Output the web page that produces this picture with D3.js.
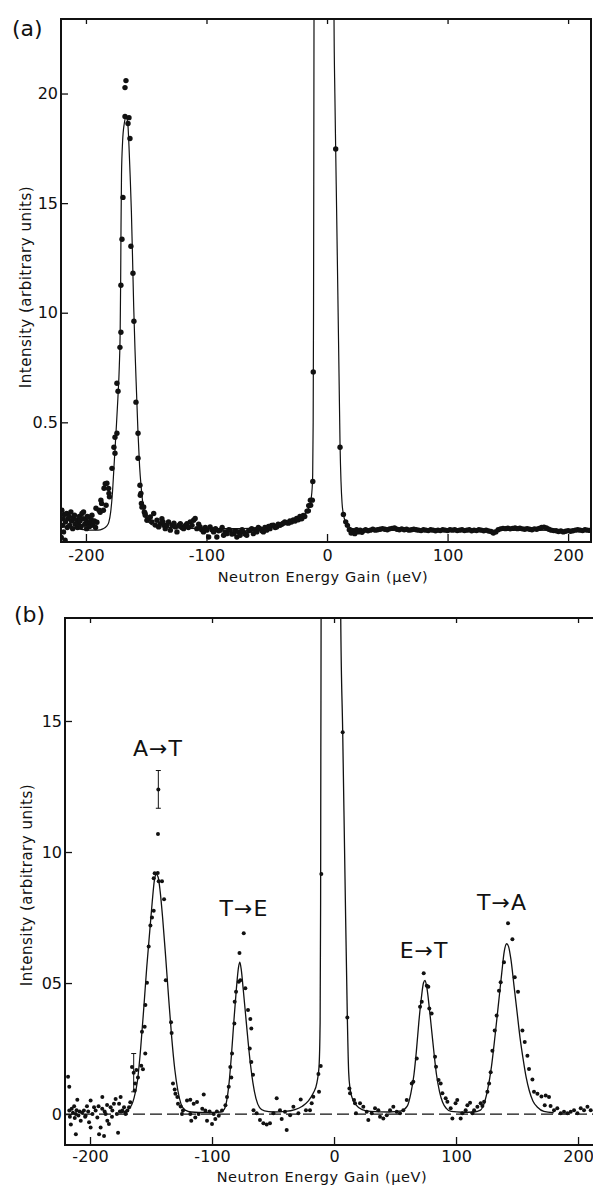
<!DOCTYPE html>
<html>
<head>
<meta charset="utf-8">
<script src="https://cdn.jsdelivr.net/npm/d3@7"></script>
<style>
body { margin: 0; background: #fff; }
svg text { font-family: "DejaVu Sans", sans-serif; fill: #111; }
</style>
</head>
<body>
<svg id="fig" width="593" height="1186"></svg>
<script>
'use strict';

// ---- shared ticks ----
var xTicks = [-200, -100, 0, 100, 200];
var xTitle = 'Neutron Energy Gain (\u00b5eV)';
var yTitle = 'Intensity (arbitrary units)';

// ---- panel (a) ----
var aYTicks = [5, 10, 15, 20];
var aYTickLabels = ['0.5', '10', '15', '20'];

// measured points [energy, intensity]
var aPts = [
	[-220.5,-0.25],[-220,0.99],[-219.5,0.3],[-219,0.6],[-218.6,0.0],[-218,0.8],[-217.3,-0.38],[-217,0.45],
	[-216,0.84],[-215.5,0.2],[-215,0.6],[-214,0.7],[-213.5,0.3],[-212.5,0.91],[-212,0.5],[-211,0.15],
	[-210.5,0.65],[-209.5,0.76],[-209,0.35],[-208,0.55],[-207,0.2],[-206.4,0.38],[-205.5,0.7],[-205,0.5],
	[-204,0.25],[-203.3,0.84],[-202.5,0.6],[-202,0.91],[-201,0.35],[-200,0.55],[-199.5,0.15],[-199,0.7],
	[-198,0.4],[-197.8,0.68],[-197,0.25],[-196.4,0.46],[-195.5,0.55],[-195,0.76],[-194,0.3],[-193,0.5],
	[-192,0.2],[-191.7,1.08],[-190.9,0.44],[-189.2,0.99],[-188.2,0.9],[-187.6,1.45],[-187,1.3],[-185.5,0.99],
	[-185,1.99],[-184,2.2],[-183.3,1.22],[-182.6,2.22],[-181.2,1.98],[-180.9,1.76],[-180.5,1.6],[-178.4,2.9],
	[-176.8,3.86],[-175.9,4.32],[-175.9,3.59],[-174.3,4.5],[-174.3,6.78],[-173.4,6.42],[-171.8,8.42],[-171,9.11],
	[-171,11.25],[-170.1,13.35],[-169.3,15.26],[-167.6,18.95],[-167.6,20.27],[-166.8,20.59],[-165.1,18.63],[-164.3,18.9],
	[-163.5,17.95],[-162.7,13.03],[-161,11.8],[-160.2,9.61],[-158.5,5.92],[-156.8,4.5],[-156.8,3.36],[-155.2,2.13],
	[-154.9,1.67],[-154.4,1.76],[-154,1.3],[-153.5,1.13],[-152.1,1.14],[-151.6,0.91],[-151,0.85],[-150.8,0.76],
	[-149.4,0.53],[-148,0.6],[-146.6,0.68],[-145.3,0.46],[-143.8,0.84],[-142.5,0.31],[-141.1,0.53],[-139.7,0.23],
	[-138.3,0.38],[-137,0.6],[-136.1,0.46],[-135,0.3],[-134.2,0.15],[-132.8,0.31],[-131.5,0.45],[-130,0.08],
	[-128.6,0.31],[-127,0.4],[-125.9,0.23],[-124.5,0],[-123,0.3],[-121.7,0.38],[-120.5,0.2],[-119,0.15],
	[-117.5,0.3],[-116.2,0.38],[-115,0.2],[-113.5,0.46],[-112,0.3],[-110.7,0.53],[-109.4,0.61],[-108,0.15],
	[-106.5,0.35],[-105.3,0.23],[-104,0.1],[-102.5,0],[-101,0.2],[-99.8,0.08],[-98.2,-0.23],[-97,0.23],
	[-95.5,0.1],[-94.1,0],[-92.5,0.15],[-91.4,-0.23],[-90,0.05],[-88.6,0.08],[-87,0.2],[-85.8,-0.15],
	[-84.5,0],[-83.1,-0.08],[-81.5,0.1],[-80.3,0.08],[-79,-0.1],[-77.6,-0.08],[-76,0.05],[-74.8,-0.23],
	[-73.5,0],[-72.1,-0.15],[-70.5,0.1],[-69.3,0],[-68,-0.1],[-66.6,-0.15],[-65,0.05],[-63.8,0.08],
	[-62.5,0.15],[-61.1,-0.08],[-59.5,0.1],[-58.3,0],[-57,0.2],[-55.6,0.15],[-54,0.05],[-52.8,0],
	[-51.5,0.2],[-50.1,0.08],[-48.5,0.25],[-47.3,0.15],[-46,0.3],[-44.5,0.31],[-43,0.2],[-41.8,0.23],
	[-40.5,0.35],[-39,0.3],[-37.5,0.35],[-36.3,0.4],[-35,0.45],[-33.5,0.42],[-32,0.4],[-30.8,0.5],
	[-29.5,0.45],[-28,0.55],[-26.5,0.5],[-25.2,0.62],[-23.8,0.55],[-22.5,0.7],[-21,0.6],[-19.7,0.75],
	[-18.5,0.7],[-16.6,0.95],[-15.5,0.96],[-15.2,1.2],[-13.8,1.45],[-13.6,1.22],[-12.2,1.45],[-11.8,2.3],
	[-11.4,7.3],[7.2,17.47],[10.8,3.86],[13.6,0.8],[15.5,0.46],[16.9,0.3],
	[18.5,0.1],[20,-0.05],[21.5,0.05],[23,-0.08],[24.5,0.1],[26,0.0],[27.5,0.08],[29,-0.02],
	[30.5,0.06],[32,0.1],[34,0.05],[36,0.08],[38,0.12],[40,0.08],[42,0.1],[44,0.12],
	[46,0.15],[48,0.12],[50,0.1],[52,0.14],[54,0.16],[56,0.18],[58,0.12],[60,0.1],
	[62,0.14],[64,0.1],[66,0.12],[68,0.08],[70,0.1],[72,0.12],[74,0.1],[76,0.08],
	[78,0.06],[80,0.1],[82,0.08],[84,0.06],[86,0.1],[88,0.08],[90,0.05],[92,0.08],
	[94,0.06],[96,0.1],[98,0.08],[100,0.06],[102,0.1],[104,0.08],[106,0.1],[108,0.06],
	[110,0.08],[112,0.1],[114,0.06],[116,0.08],[118,0.1],[120,0.05],[122,0.08],[124,0.06],
	[126,0.1],[128,0.08],[130,0.05],[132,0.08],[134,0.04],[136,0.02],[138,-0.05],[140,0.0],
	[142,0.1],[144,0.14],[146,0.16],[148,0.15],[150,0.17],[152,0.14],[154,0.16],[156,0.18],
	[158,0.15],[160,0.17],[162,0.14],[164,0.12],[166,0.15],[168,0.12],[170,0.1],[172,0.14],
	[174,0.12],[176,0.16],[178,0.2],[180,0.22],[182,0.18],[184,0.12],[186,0.08],[188,0.06],
	[190,0.05],[192,0.02],[194,0.04],[196,0.0],[198,0.03],[200,0.06],[202,0.03],[204,0.05],
	[206,0.08],[208,0.1],[210,0.08],[212,0.06],[214,0.1],[216,0.08],[218,0.07]
];

// fitted curve
var aFit = [
	[-221,0.25],[-212,0.18],[-204,0.12],[-196,0.08],[-190,0.08],[-186,0.14],[-183,0.25],[-181,0.45],
	[-179.5,0.9],[-178,1.8],[-176.5,3.2],[-175,4.6],[-173.5,6.1],[-172.3,7.6],[-171.6,9.2],[-171.2,11.5],
	[-170.9,14],[-170.5,16.3],[-169.6,17.8],[-168.3,18.6],[-166.8,18.9],[-165.4,18.7],[-164.3,17.6],[-163.3,16.2],
	[-162.3,14.6],[-161.3,12.4],[-160.4,10.3],[-159.3,8.3],[-158,6.3],[-156.8,4.5],[-155.5,3.0],[-154.3,2.1],
	[-153,1.4],[-151,0.8],[-148,0.45],[-143,0.28],[-130,0.2],[-100,0.15],[-70,0.15],[-50,0.22],
	[-40,0.32],[-30,0.45],[-22,0.65],[-17,0.9],[-14,1.3],[-12.6,1.8],[-11.9,2.6],[-11.5,5],
	[-11.2,10],[-11,16],[-10.8,23.4],[-10.5,40],[5.4,40],[5.8,23.4],[6.5,20],[7.2,17.4],
	[8,14.5],[9,10.8],[10,7],[10.8,4.0],[11.6,2.3],[12.5,1.3],[13.6,0.8],[15,0.5],
	[17,0.3],[20,0.18],[25,0.1],[40,0.08],[100,0.08],[219,0.07]
];

// ---- panel (b) ----
var bYTicks = [0, 5, 10, 15];
var bYTickLabels = ['0', '05', '10', '15'];

var bPts = [
	[-218,1.42],[-217,1.04],[-217,0.14],[-216.5,-0.1],[-215.7,-0.4],[-215,0.2],[-214,0.05],[-213,0.3],
	[-212.5,-0.15],[-211.6,0],[-211.6,-0.77],[-211,0.15],[-210.4,0.55],[-209.5,-0.05],[-208.5,0.1],[-207.6,-0.25],
	[-206.5,0.05],[-205,0.14],[-204,-0.1],[-203.6,-0.06],[-202.5,0.3],[-201.5,0.1],[-200.8,-0.31],[-199.5,-0.51],
	[-199.5,0.52],[-198,0.0],[-196.7,0.26],[-195.4,0.14],[-194,-0.13],[-193,0.3],[-192.6,-0.77],[-191.3,-0.51],
	[-190,0.2],[-189.9,0.65],[-188.5,-0.84],[-188,0.1],[-187.2,0],[-186,0.35],[-185.8,-0.25],[-184.5,-0.38],
	[-183.1,0.26],[-182,-0.1],[-181.7,0.14],[-180.4,0.39],[-179,0.58],[-178,0.0],[-177,-0.71],[-176.2,0.39],
	[-175.5,0.1],[-174.9,0.65],[-173.5,0.14],[-172.1,0.26],[-171,0.05],[-170.8,0],[-169.4,0.14],[-168,0.26],
	[-167,0.45],[-165.6,1.8],[-163.4,0.9],[-163,1.17],[-162,1.68],[-160.7,1.4],[-158,1.84],[-156.6,1.71],
	[-157.4,3.14],[-155.2,3.33],[-154.7,2.31],[-154.6,4.16],[-153.3,5.01],[-151.9,6.39],[-150.5,7.2],[-149.2,7.5],
	[-147.8,7.76],[-147.8,9.0],[-147,9.19],[-144.5,9.2],[-144.3,10.69],[-143.7,8.88],[-141,8.88],[-139.3,8.2],
	[-137.9,5.11],[-133.6,3.5],[-133.1,3.09],[-132,1.17],[-130.6,0.94],[-130,0.78],[-128.4,0.65],[-127.9,0.39],
	[-125.7,0.29],[-124.6,0.0],[-123.8,0.14],[-120.5,0.52],[-117.8,0.55],[-117.8,0],[-117,-0.25],[-115,0.39],
	[-113.7,-0.13],[-112.3,0.46],[-111,0],[-108,0.2],[-106.8,0.75],[-105.5,0.14],[-104.1,-0.25],[-102,0.1],
	[-100,-0.38],[-98.6,0],[-97.3,-0.19],[-96,0.1],[-94.5,-0.06],[-91.8,0.14],[-89,0.34],[-87.7,0.65],
	[-86.3,1.04],[-85,1.8],[-84.2,1.4],[-83.6,2.31],[-81.7,3.46],[-81.4,4.29],[-80.3,4.67],[-78.1,5.05],
	[-76.8,5.11],[-77.5,6.15],[-74,6.9],[-72.7,4.8],[-70.5,3.97],[-68.6,3.63],[-67.8,3.27],[-69.1,2.5],
	[-67.8,1.99],[-66.4,1.5],[-66,0.15],[-63.4,0.03],[-60.7,-0.23],[-57.9,-0.35],[-55.2,-0.4],[-52.5,-0.35],
	[-49.7,0.03],[-47,0.6],[-44.3,0.15],[-42.9,-0.19],[-40.2,0.09],[-38.8,-0.61],[-36,-0.04],[-33.3,0.28],
	[-29.2,0.03],[-27.3,0.56],[-23,0.15],[-19.7,0.15],[-18.3,0.41],[-17,0.66],[-12.3,0.85],[-12.8,1.53],
	[-10.9,1.83],[-10.4,9.16],[7.1,14.57],[10.9,3.69],[12.6,0.98],[13.1,0.79],[16.4,0.54],[17.2,0.41],
	[18,0.03],[21.3,0.41],[24,0.28],[26.8,0.09],[28.1,-0.23],[30.9,0.03],[33.6,0.22],[36.3,0.15],
	[37.7,-0.1],[40.4,-0.17],[43.2,-0.04],[45.9,0.15],[48.6,0.28],[51.4,0.09],[54.1,0.03],[56.8,0.15],
	[59.6,0.54],[63.7,1.17],[65,1.23],[67.8,2.12],[70.5,4.1],[71.9,4.29],[73.5,5.37],[76,4.9],
	[77.3,4.86],[78.1,4.03],[80,3.84],[82.8,2.19],[83.6,1.81],[85.7,1.3],[87.4,1.17],[88.8,0.79],
	[91.5,0.6],[92.9,0.47],[95.6,0.22],[97,-0.17],[99.6,0.41],[101,0.54],[103.8,-0.17],[105.2,0.03],
	[107.9,0.15],[109.3,0.34],[111.5,0.43],[113.4,0.03],[114.8,0.15],[117.5,0.28],[120.2,0.41],[121.6,0.31],
	[123,0.47],[125.7,0.85],[127.1,1.17],[128.4,1.6],[129.8,2.42],[131.7,3.19],[133.3,3.76],[135.2,4.71],
	[136.6,5.03],[139.3,5.79],[142.6,7.28],[146.2,6.67],[148.1,5.22],[150.8,4.67],[154.4,3.19],[156.3,2.75],
	[158.5,2.23],[159.8,1.72],[162.6,1.32],[163.9,0.85],[166.7,0.78],[170,0.67],[173.5,0.71],[176.2,0.65],
	[172.7,0.34],[177.5,0.31],[180.3,0.15],[183,0.22],[185.8,0.03],[188.5,0.09],[191.3,0.03],[194,0.09],
	[196.7,0.15],[199.5,0.03],[202.2,0.22],[204.9,0.15],[207.7,0.28],[210.4,0.15]
];

// points carrying error bars: [energy, intensity, half-width]
var bErr = [[-144, 12.39, 0.72], [-164.2, 1.58, 0.73]];

var bFit = [
	[-175,0.04],[-168,0.2],[-164,0.6],[-161,1.3],[-158.5,2.5],[-156,4.0],[-153.5,5.6],[-151,7.0],
	[-149,8.1],[-147.3,8.9],[-145.7,9.15],[-144.2,9.05],[-142.5,8.5],[-140.5,7.5],[-138,6.0],[-135.5,4.4],
	[-133,2.9],[-130.5,1.7],[-128,0.9],[-125.5,0.4],[-122,0.15],[-117,0.08],[-105,0.06],[-93,0.08],
	[-90,0.18],[-88,0.5],[-86,1.2],[-84,2.3],[-82,3.6],[-80,4.8],[-78.3,5.6],[-77.2,5.8],
	[-76,5.5],[-74.5,4.8],[-72.5,3.8],[-70.5,2.8],[-68.5,1.9],[-66.5,1.2],[-64,0.6],[-61,0.25],
	[-57,0.12],[-50,0.08],[-40,0.1],[-32,0.17],[-26,0.3],[-21,0.5],[-17,0.8],[-14,1.2],
	[-12.3,1.8],[-11.4,3.5],[-11,8],[-10.8,14],[-10.6,18.93],[-10.4,40],[5.2,40],[5.5,18.93],
	[7.1,14.6],[9,9],[10.9,3.7],[12,1.6],[13.2,0.95],[15,0.6],[18,0.35],[23,0.17],
	[30,0.1],[45,0.08],[55,0.12],[60,0.3],[63,0.8],[65.5,1.5],[67.5,2.4],[69.5,3.5],
	[71.5,4.4],[73.3,5.0],[74.6,5.1],[76,4.85],[78,4.1],[80,3.2],[82,2.3],[84,1.5],
	[86.5,0.85],[89,0.45],[92,0.22],[96,0.1],[105,0.07],[115,0.08],[120,0.15],[123,0.4],
	[126,0.95],[129,1.8],[132,3.0],[135,4.3],[137.5,5.4],[139.5,6.2],[141.5,6.5],[143,6.4],
	[145,5.9],[147.5,4.9],[150,3.9],[152.5,2.9],[155,2.1],[157.5,1.4],[160,0.9],[163,0.5],
	[167,0.25],[172,0.1],[180,0.05]
];

var bNotes = ['A\u2192T', 'T\u2192E', 'E\u2192T', 'T\u2192A'];
var bNoteAt = [[-144.3, 13.66], [-73.8, 7.56], [73.8, 5.95], [137.7, 7.79]];


function drawPanel(p) {
	var svg = d3.select('#fig');
	var x = d3.scaleLinear().domain(p.xDomain).range([p.left, p.right]);
	var y = d3.scaleLinear().domain(p.yDomain).range([p.bottom, p.top]);
	var g = svg.append('g').attr('class', 'panel-' + p.name);

	svg.append('clipPath').attr('id', 'clip-' + p.name)
		.append('rect')
		.attr('x', p.left).attr('y', p.top)
		.attr('width', p.right - p.left).attr('height', p.bottom - p.top);

	var plot = g.append('g').attr('clip-path', 'url(#clip-' + p.name + ')');

	// zero line (panel b only)
	if (p.zeroLine) {
		plot.append('line')
			.attr('x1', p.left).attr('x2', p.right)
			.attr('y1', y(0)).attr('y2', y(0))
			.attr('stroke', '#111').attr('stroke-width', 1.1)
			.attr('stroke-dasharray', '12,5');
	}

	// fitted curve
	var line = d3.line()
		.x(function(d) { return x(d[0]); })
		.y(function(d) { return y(d[1]); })
		.curve(d3.curveMonotoneX);
	plot.append('path')
		.datum(p.fit)
		.attr('d', line)
		.attr('fill', 'none')
		.attr('stroke', '#111')
		.attr('stroke-width', p.lineWidth);

	// data points
	plot.selectAll('circle.pt')
		.data(p.pts)
		.enter().append('circle')
		.attr('class', 'pt')
		.attr('cx', function(d) { return x(d[0]); })
		.attr('cy', function(d) { return y(d[1]); })
		.attr('r', p.dotR)
		.attr('fill', '#111');

	// error bars
	if (p.err) {
		var eb = plot.selectAll('g.err').data(p.err).enter().append('g').attr('class', 'err');
		eb.append('line')
			.attr('x1', function(d) { return x(d[0]); })
			.attr('x2', function(d) { return x(d[0]); })
			.attr('y1', function(d) { return y(d[1] - d[2]); })
			.attr('y2', function(d) { return y(d[1] + d[2]); })
			.attr('stroke', '#111').attr('stroke-width', 1);
		[-1, 1].forEach(function(s) {
			eb.append('line')
				.attr('x1', function(d) { return x(d[0]) - 2.5; })
				.attr('x2', function(d) { return x(d[0]) + 2.5; })
				.attr('y1', function(d) { return y(d[1] + s * d[2]); })
				.attr('y2', function(d) { return y(d[1] + s * d[2]); })
				.attr('stroke', '#111').attr('stroke-width', 1);
		});
		eb.append('circle')
			.attr('cx', function(d) { return x(d[0]); })
			.attr('cy', function(d) { return y(d[1]); })
			.attr('r', p.dotR)
			.attr('fill', '#111');
	}

	// axes
	var bottomAxis = d3.axisBottom(x).tickValues(xTicks)
		.tickSizeInner(-8).tickSizeOuter(0).tickPadding(p.xPad)
		.tickFormat(function(d) { return String(d); });
	var topAxis = d3.axisTop(x).tickValues(xTicks)
		.tickSizeInner(-5).tickSizeOuter(0).tickFormat('');
	var leftAxis = d3.axisLeft(y).tickValues(p.yTicks)
		.tickSizeInner(-7).tickSizeOuter(0).tickPadding(3)
		.tickFormat(function(d, i) { return p.yTickLabels[i]; });

	[[bottomAxis, 'translate(0,' + p.bottom + ')'],
	 [topAxis, 'translate(0,' + p.top + ')'],
	 [leftAxis, 'translate(' + p.left + ',0)']].forEach(function(a) {
		var ag = g.append('g').attr('transform', a[1]).call(a[0]);
		ag.select('.domain').remove();
		ag.selectAll('line').attr('stroke', '#111').attr('stroke-width', 1.3);
		ag.selectAll('text')
			.attr('font-family', '"DejaVu Sans", sans-serif')
			.attr('font-size', 16)
			.attr('fill', '#111');
	});

	// frame
	g.append('rect')
		.attr('x', p.left).attr('y', p.top)
		.attr('width', p.right - p.left).attr('height', p.bottom - p.top)
		.attr('fill', 'none').attr('stroke', '#111').attr('stroke-width', 2);

	// titles
	g.append('text')
		.attr('x', p.xTitleX).attr('y', p.xTitleY)
		.attr('text-anchor', 'middle')
		.attr('font-size', 14.5)
		.attr('letter-spacing', 0.6)
		.text(xTitle);
	g.append('text')
		.attr('transform', 'translate(' + p.yTitleX + ',' + p.yTitleY + ') rotate(-90)')
		.attr('text-anchor', 'middle')
		.attr('font-size', 15)
		.attr('letter-spacing', 0.5)
		.text(yTitle);
	g.append('text')
		.attr('x', p.tagX).attr('y', p.tagY)
		.attr('font-size', 22)
		.text(p.tag);

	// peak annotations
	if (p.notes) {
		g.selectAll('text.note')
			.data(p.notes)
			.enter().append('text')
			.attr('class', 'note')
			.attr('x', function(d, i) { return x(p.noteAt[i][0]); })
			.attr('y', function(d, i) { return y(p.noteAt[i][1]); })
			.attr('text-anchor', 'middle')
			.attr('font-size', 22)
			.attr('letter-spacing', 1)
			.text(function(d) { return d; });
	}
}

drawPanel({
	name: 'a', tag: '(a)', tagX: 12, tagY: 36,
	left: 61, right: 591, top: 19, bottom: 542,
	xDomain: [-220.7, 219], yDomain: [-0.46, 23.4],
	yTicks: aYTicks, yTickLabels: aYTickLabels, xPad: 8,
	pts: aPts, fit: aFit, dotR: 2.7, lineWidth: 1.2,
	xTitleX: 323, xTitleY: 582, yTitleX: 31, yTitleY: 287
});

drawPanel({
	name: 'b', tag: '(b)', tagX: 14, tagY: 622,
	left: 65, right: 595, top: 618, bottom: 1145,
	xDomain: [-220.5, 213.9], yDomain: [-1.18, 18.93],
	yTicks: bYTicks, yTickLabels: bYTickLabels, xPad: 6,
	pts: bPts, fit: bFit, err: bErr, dotR: 2, lineWidth: 1.3,
	zeroLine: true, notes: bNotes, noteAt: bNoteAt,
	xTitleX: 322, xTitleY: 1182, yTitleX: 32, yTitleY: 885
});
</script>
</body>
</html>
